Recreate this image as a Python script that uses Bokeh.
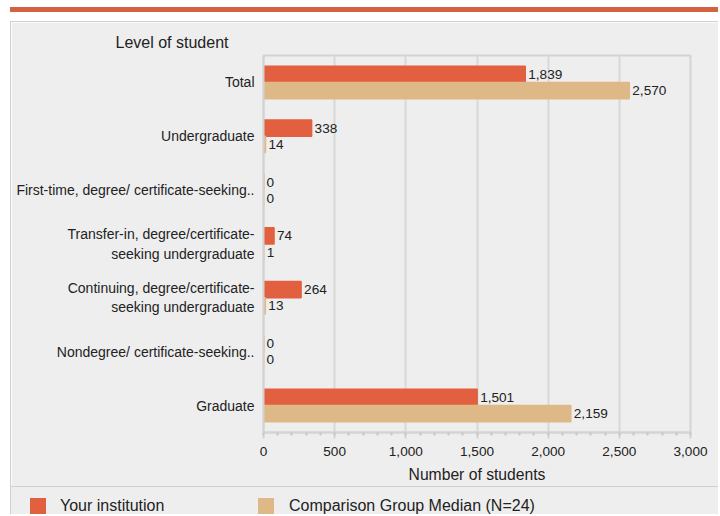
from bokeh.plotting import figure
from bokeh.models import (FactorRange, Range1d, SingleIntervalTicker, NumeralTickFormatter,
                          Div, Spacer, ColumnDataSource)
from bokeh.layouts import column, row
from bokeh.transform import dodge
from bokeh.core.properties import value
from bokeh.embed import file_html
from bokeh.resources import INLINE

# ---- data ----
categories = [
    "Total",
    "Undergraduate",
    "First-time, degree/ certificate-seeking..",
    "Transfer-in, degree/certificate-\nseeking undergraduate",
    "Continuing, degree/certificate-\nseeking undergraduate",
    "Nondegree/ certificate-seeking..",
    "Graduate",
]
your_institution = [1839, 338, 0, 74, 264, 0, 1501]
comparison_median = [2570, 14, 0, 1, 13, 0, 2159]
series_names = ["Your institution", "Comparison Group Median (N=24)"]
y_axis_title = "Level of student"
x_axis_title = "Number of students"

ORANGE = "#E2603F"
TAN = "#DFB887"
BAND = "#D4613F"
PANEL = "#EEEEEE"
LINE = "#D4D4D4"
BORDER = "#D0D0D0"
TEXT = "#222222"
FONT = "Liberation Sans"

src = ColumnDataSource(dict(
    cat=categories,
    yours=your_institution,
    comp=comparison_median,
    yours_lbl=[f"{v:,}" for v in your_institution],
    comp_lbl=[f"{v:,}" for v in comparison_median],
))

p = figure(width=707, height=464,
           y_range=FactorRange(factors=categories[::-1]),
           x_range=Range1d(0, 3000),
           title=y_axis_title,
           output_backend="svg", toolbar_location=None,
           min_border_left=252, min_border_right=28,
           min_border_top=33, min_border_bottom=54,
           background_fill_color=PANEL, border_fill_color=PANEL,
           outline_line_color=LINE, outline_line_width=2)

p.title.align = "left"
p.title.offset = -148
p.title.text_font = FONT
p.title.text_font_size = "16px"
p.title.text_font_style = "normal"
p.title.text_color = TEXT
p.title.standoff = 10

off = 0.151
bh = 0.302
p.hbar(y=dodge("cat", off, range=p.y_range), left=0, right="yours", height=bh,
       source=src, fill_color=ORANGE, line_color=ORANGE, line_width=1.5)
p.hbar(y=dodge("cat", -off, range=p.y_range), left=0, right="comp", height=bh,
       source=src, fill_color=TAN, line_color=TAN, line_width=1.5)

p.text(x="yours", y=dodge("cat", off, range=p.y_range), text="yours_lbl", source=src,
       x_offset=3, text_baseline="middle", text_align="left",
       text_font=value(FONT), text_font_size="13.6px", text_color=TEXT)
p.text(x="comp", y=dodge("cat", -off, range=p.y_range), text="comp_lbl", source=src,
       x_offset=3, text_baseline="middle", text_align="left",
       text_font=value(FONT), text_font_size="13.6px", text_color=TEXT)

# x axis
xa = p.xaxis[0]
xa.ticker = SingleIntervalTicker(interval=500, num_minor_ticks=5)
xa.formatter = NumeralTickFormatter(format="0,0")
xa.axis_label = x_axis_title
xa.axis_label_text_font = FONT
xa.axis_label_text_font_size = "15.7px"
xa.axis_label_text_font_style = "normal"
xa.axis_label_text_color = TEXT
xa.axis_label_standoff = 7
xa.major_label_text_font = FONT
xa.major_label_text_font_size = "13.6px"
xa.major_label_text_color = TEXT
xa.major_label_standoff = 8
xa.axis_line_color = LINE
xa.axis_line_width = 2
xa.major_tick_line_color = LINE
xa.major_tick_line_width = 2
xa.major_tick_in = 0
xa.major_tick_out = 6
xa.minor_tick_line_color = "#C8C8C8"
xa.minor_tick_line_width = 2
xa.minor_tick_in = 0
xa.minor_tick_out = 3

# y axis
ya = p.yaxis[0]
ya.axis_line_color = LINE
ya.axis_line_width = 2
ya.major_tick_in = 0
ya.major_tick_out = 0
ya.minor_tick_line_color = None
ya.major_label_standoff = 9
ya.major_label_text_font = FONT
ya.major_label_text_font_size = "14px"
ya.major_label_text_color = TEXT

p.xgrid.grid_line_color = "#D8D8D8"
p.xgrid.grid_line_width = 2
p.ygrid.grid_line_color = None

# page decorations: top band, panel borders, legend strip
band = Div(width=708, height=5, margin=(7, 0, 0, 10), text="",
           styles={"background-color": BAND})
hline = Div(width=708, height=1, margin=(9, 0, 0, 10), text="",
            styles={"background-color": BORDER})
vline = Spacer(width=1, height=464, margin=(0, 0, 0, 10),
               styles={"background-color": BORDER})

sw = "position:absolute;width:16px;height:16px;top:11px;"
lb = "position:absolute;top:10px;line-height:18px;white-space:nowrap;"
legend_html = (
    f'<div style="position:relative;width:708px;height:28px;box-sizing:border-box;'
    f'background:{PANEL};border-top:1px solid {BORDER};border-left:1px solid {BORDER};'
    f"font-family:'{FONT}';font-size:16px;color:{TEXT};\">"
    f'<span style="{sw}left:19px;background:{ORANGE}"></span>'
    f'<span style="{lb}left:49px">{series_names[0]}</span>'
    f'<span style="{sw}left:247px;background:{TAN}"></span>'
    f'<span style="{lb}left:278px">{series_names[1]}</span>'
    f'</div>'
)
legend = Div(width=708, height=28, margin=(0, 0, 0, 10), text=legend_html)

layout = column(band, hline, row(vline, p), legend)

open("out.html", "w").write(file_html(layout, INLINE))
